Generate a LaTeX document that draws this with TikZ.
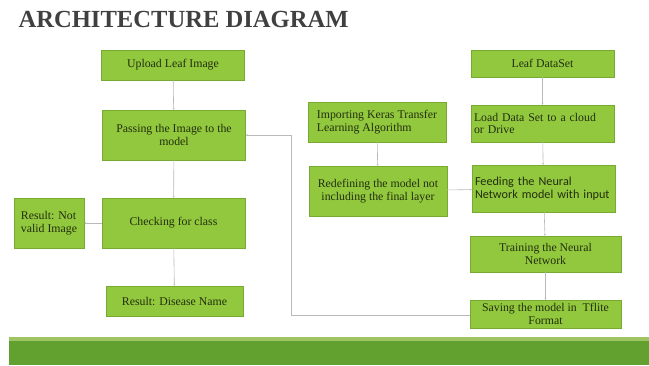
\documentclass[tikz,border=0pt]{standalone}
\usepackage{fontspec}
\setmainfont{Liberation Serif}
\newfontfamily\calfont{Carlito}
\usetikzlibrary{arrows.meta}
\definecolor{leafgreen}{RGB}{146,200,62}
\definecolor{leafedge}{RGB}{120,170,50}
\definecolor{leaftext}{RGB}{34,46,14}
\definecolor{barlight}{RGB}{160,196,100}
\definecolor{bardark}{RGB}{98,160,48}
\definecolor{wiregray}{RGB}{185,185,185}
\tikzset{
  arc_box/.style = {rectangle, draw=leafedge, fill=leafgreen, text=leaftext, inner sep=1.5pt, font=\fontsize{11.8}{12.4}\selectfont},
  % long boxes of the left and right columns
  arc_wide/.style = {arc_box, minimum width=143pt},
  arc_line/.style = {draw=wiregray, line width=0.6pt, -{Stealth[length=2pt,width=2pt]}}
}
\begin{document}
\begin{tikzpicture}[x=1pt,y=-1pt]
    \useasboundingbox (0,0) rectangle (649,365);
    % Title:
    \node [anchor=west, text=black!75, font=\fontsize{24.6}{24.6}\selectfont\bfseries] (title) at (15,19) {ARCHITECTURE DIAGRAM};
    % Left column - using the model:
    \node [arc_wide, minimum height=30pt] (upload) at (173,65) {Upload Leaf Image};
    \node [arc_wide, minimum height=50pt, align=center] (passing) at (174,135) {Passing the Image to the\\model};
    \node [arc_wide, minimum height=50pt] (checking) at (173.5,223) {Checking for class};
    \node [arc_box, minimum width=70pt, minimum height=50pt, align=left] (notvalid) at (49,223) {Result: Not\\valid Image};
    \node [arc_box, minimum width=137pt, minimum height=30pt] (disease) at (174.5,301) {Result: Disease Name};
    % Middle column - transfer learning:
    \node [arc_box, minimum width=138pt, minimum height=40pt, align=left] (importing) at (377,122) {Importing Keras Transfer\\Learning Algorithm};
    \node [arc_box, minimum width=138pt, minimum height=50pt, align=center] (redefining) at (378,191) {Redefining the model not\\including the final layer};
    % Right column - training:
    \node [arc_wide, minimum height=27pt] (dataset) at (542.5,63.5) {Leaf DataSet};
    \node [arc_wide, minimum height=37pt, align=left, text width=137pt] (cloud) at (542.5,123.5) {Load Data Set to a cloud\\or Drive};
    \node [arc_wide, minimum height=47pt, align=left, text width=137pt, font=\calfont\fontsize{12.2}{13.5}\selectfont] (feeding) at (543.5,188.5) {Feeding the Neural\\Network model with input};
    \node [arc_box, minimum width=151pt, minimum height=36pt, align=center] (training) at (545.5,254) {Training the Neural\\Network};
    \node [arc_box, minimum width=151pt, minimum height=28pt, align=center] (saving) at (545.5,314) {Saving the model in\ \ Tflite\\Format};
    \coordinate (bend_top) at (291,135);
    \coordinate (bend_low) at (291,315);
    % Connectors:
    \draw [arc_line] (upload) -- (passing);
    \draw [arc_line] (passing) -- (checking);
    \draw [arc_line] (checking) -- (notvalid);
    \draw [arc_line] (checking) -- (disease);
    \draw [arc_line] (importing) -- (redefining);
    \draw [arc_line] (redefining) -- (feeding);
    \draw [arc_line] (dataset) -- (cloud);
    \draw [arc_line] (cloud) -- (feeding);
    \draw [arc_line] (feeding) -- (training);
    \draw [arc_line] (training) -- (saving);
    \draw [arc_line] (saving.west |- bend_low) -- (bend_low) -- (bend_top) -- (passing.east);
    % Bottom bar:
    \fill [barlight] (9,337) rectangle (649,341);
    \fill [bardark] (9,341) rectangle (649,365);
\end{tikzpicture}
\end{document}
